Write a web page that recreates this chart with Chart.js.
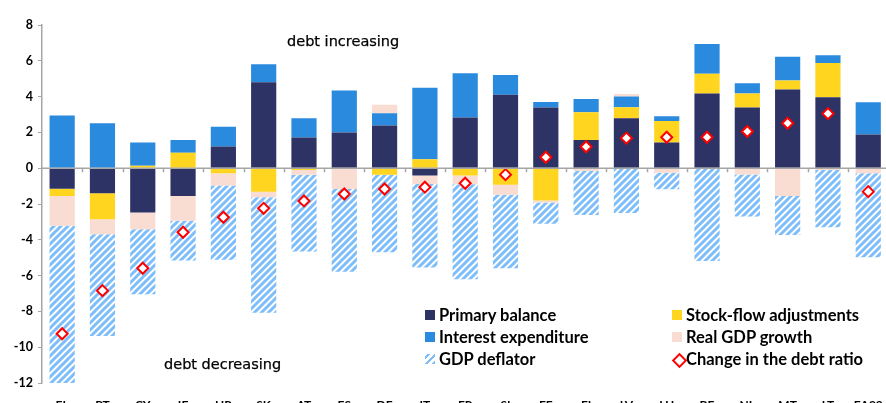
<!DOCTYPE html>
<html>
<head>
<meta charset="utf-8">
<script src="https://cdn.jsdelivr.net/npm/chart.js@4/dist/chart.umd.min.js"></script>
<style>
  html, body { margin: 0; padding: 0; overflow: hidden; background: #fff; }
  #wrap { position: relative; width: 898px; height: 412px; }
  canvas { position: absolute; left: 0; top: 0; }
  .note { position: absolute; font-family: "DejaVu Sans", sans-serif; font-size: 14.5px; color: #000; white-space: nowrap; -webkit-text-stroke: 0.25px #000; }
  .legend { position: absolute; font-family: Lato, "Open Sans", sans-serif; font-weight: bold; font-size: 16.5px; color: #000; white-space: nowrap; }
  .legend .item { position: absolute; height: 20px; line-height: 20px; }
  .legend .mark { position: absolute; left: 0; top: 5px; width: 10px; height: 10px; }
  .legend .txt { position: absolute; left: 14px; top: 0; }
</style>
</head>
<body>
<div id="wrap">
  <canvas id="chart" width="898" height="412"></canvas>
  <div class="note" style="left:287px; top:33px;">debt increasing</div>
  <div class="note" style="left:164px; top:356px;">debt decreasing</div>
  <div class="legend" id="legend"></div>
</div>
<script>
const categories = ['EL','PT','CY','IE','HR','SK','AT','ES','DE','IT','FR','SI','EE','FI','LV','LU','BE','NL','MT','LT','EA20'];

const primaryBalance = [-1.15, -1.4, -2.48, -1.55, 1.21, 4.8, 1.71, 1.99, 2.38, -0.41, 2.83, 4.1, 3.39, 1.58, 2.79, 1.43, 4.17, 3.39, 4.39, 3.97, 1.88];
const stockFlow = [-0.4, -1.45, 0.13, 0.87, -0.28, -1.31, -0.1, 0, -0.37, 0.5, -0.41, -0.93, -1.81, 1.55, 0.62, 1.21, 1.11, 0.78, 0.51, 1.91, 0];
const interest = [2.94, 2.51, 1.3, 0.71, 1.11, 1.01, 1.08, 2.35, 0.69, 3.99, 2.48, 1.1, 0.31, 0.74, 0.59, 0.26, 1.66, 0.58, 1.32, 0.43, 1.81];
const realGdp = [-1.67, -0.84, -0.93, -1.38, -0.69, -0.31, -0.27, -1.16, 0.47, -0.47, -0.48, -0.56, -0.1, -0.15, 0.15, -0.25, -0.05, -0.35, -1.55, -0.1, -0.28];
const deflator = [-8.85, -5.68, -3.63, -2.23, -4.15, -6.45, -4.29, -4.62, -4.32, -4.67, -5.31, -4.1, -1.2, -2.46, -2.5, -0.92, -5.13, -2.35, -2.18, -3.2, -4.69];
const debtChange = [-9.25, -6.84, -5.59, -3.58, -2.74, -2.24, -1.83, -1.44, -1.16, -1.06, -0.84, -0.36, 0.61, 1.2, 1.68, 1.73, 1.73, 2.05, 2.51, 3.05, -1.31];

const yTicks = [8, 6, 4, 2, 0, -2, -4, -6, -8, -10, -12];

const NAVY = '#2e3366';
const BLUE = '#2a8ade';
const YELLOW = '#ffd520';
const PINK = '#f9dcd2';
const HATCH = '#7dbdfa';

function makeHatch() {
    const size = 7;
    const c = document.createElement('canvas');
    c.width = size; c.height = size;
    const g = c.getContext('2d');
    g.fillStyle = '#fff';
    g.fillRect(0, 0, size, size);
    g.strokeStyle = HATCH;
    g.lineWidth = 3;
    g.beginPath();
    g.moveTo(-2, size + 2); g.lineTo(size + 2, -2);
    g.moveTo(-2 - size, size + 2); g.lineTo(2, -2);
    g.moveTo(size - 2, size + 2); g.lineTo(size * 2 + 2, -2);
    g.stroke();
    return g.createPattern(c, 'repeat');
}

const ctx = document.getElementById('chart').getContext('2d');
const hatch = makeHatch();

// zero line with category tick marks
const zeroLine = {
    id: 'zeroLine',
    afterDatasetsDraw(chart) {
        const { ctx, chartArea, scales } = chart;
        const y0 = scales.y.getPixelForValue(0);
        const n = categories.length;
        const w = (chartArea.right - chartArea.left) / n;
        ctx.save();
        ctx.strokeStyle = '#a6a6a6';
        ctx.lineWidth = 1.5;
        ctx.beginPath();
        ctx.moveTo(chartArea.left, y0);
        ctx.lineTo(chartArea.right, y0);
        for (let i = 1; i < n; i++) {
            const x = Math.round(chartArea.left + i * w) + 0.5;
            ctx.moveTo(x, y0);
            ctx.lineTo(x, y0 + 4);
        }
        ctx.stroke();
        ctx.restore();
    }
};

const barCommon = { type: 'bar', stack: 'debt', order: 2, borderWidth: 0, barPercentage: 0.625, categoryPercentage: 1.0 };

new Chart(ctx, {
    data: {
        labels: categories,
        datasets: [
            { ...barCommon, label: 'Primary balance', data: primaryBalance, backgroundColor: NAVY },
            { ...barCommon, label: 'Stock-flow adjustments', data: stockFlow, backgroundColor: YELLOW },
            { ...barCommon, label: 'Interest expenditure', data: interest, backgroundColor: BLUE },
            { ...barCommon, label: 'Real GDP growth', data: realGdp, backgroundColor: PINK },
            { ...barCommon, label: 'GDP deflator', data: deflator, backgroundColor: hatch },
            {
                type: 'line', label: 'Change in the debt ratio', data: debtChange, stack: 'line', order: 0,
                showLine: false, pointStyle: 'rectRot', pointRadius: 5.5, pointHoverRadius: 5.5,
                pointBackgroundColor: '#fff', pointBorderColor: '#ff0000', pointBorderWidth: 2
            }
        ]
    },
    options: {
        responsive: false,
        animation: false,
        layout: { padding: { top: 25, left: 0, right: 0, bottom: 0 } },
        plugins: { legend: { display: false }, tooltip: { enabled: false } },
        scales: {
            x: {
                stacked: true,
                grid: { display: false, drawTicks: false },
                border: { display: false },
                ticks: { color: '#000', padding: 15, font: { family: 'Lato', weight: 'bold', size: 12 }, maxRotation: 0, autoSkip: false },
                afterFit(scale) { scale.height = 29; }
            },
            y: {
                stacked: true,
                min: -12, max: 8,
                afterBuildTicks(scale) { scale.ticks = yTicks.map(v => ({ value: v })); },
                grid: { drawOnChartArea: false, drawTicks: true, tickLength: 4, color: '#a6a6a6' },
                border: { display: true, color: '#a6a6a6', width: 1.5 },
                ticks: { color: '#000', padding: 5, font: { family: 'Lato', weight: 'bold', size: 12.5 } },
                afterFit(scale) { scale.width = 42; }
            }
        }
    },
    plugins: [zeroLine]
});

// legend, two columns
const legendItems = [
    { text: 'Primary balance', col: 0, row: 0, mark: 'square', color: NAVY },
    { text: 'Stock-flow adjustments', col: 1, row: 0, mark: 'square', color: YELLOW },
    { text: 'Interest expenditure', col: 0, row: 1, mark: 'square', color: BLUE },
    { text: 'Real GDP growth', col: 1, row: 1, mark: 'square', color: PINK },
    { text: 'GDP deflator', col: 0, row: 2, mark: 'hatch', color: HATCH },
    { text: 'Change in the debt ratio', col: 1, row: 2, mark: 'diamond', color: '#ff0000' }
];
const legendEl = document.getElementById('legend');
const colX = [425, 672];
const rowY = [305, 327, 349];
legendItems.forEach(it => {
    const d = document.createElement('div');
    d.className = 'item';
    d.style.left = colX[it.col] + 'px';
    d.style.top = rowY[it.row] + 'px';
    const m = document.createElement('div');
    m.className = 'mark';
    if (it.mark === 'square') {
        m.style.background = it.color;
    } else if (it.mark === 'hatch') {
        m.style.background = 'repeating-linear-gradient(-45deg, ' + HATCH + ' 0 2.5px, #fff 2.5px 5px)';
    } else {
        m.style.width = '7px'; m.style.height = '7px';
        m.style.left = '1.5px'; m.style.top = '6px';
        m.style.border = '2px solid ' + it.color;
        m.style.background = '#fff';
        m.style.transform = 'rotate(45deg)';
    }
    const t = document.createElement('div');
    t.className = 'txt';
    t.textContent = it.text;
    d.appendChild(m);
    d.appendChild(t);
    legendEl.appendChild(d);
});
</script>
</body>
</html>
